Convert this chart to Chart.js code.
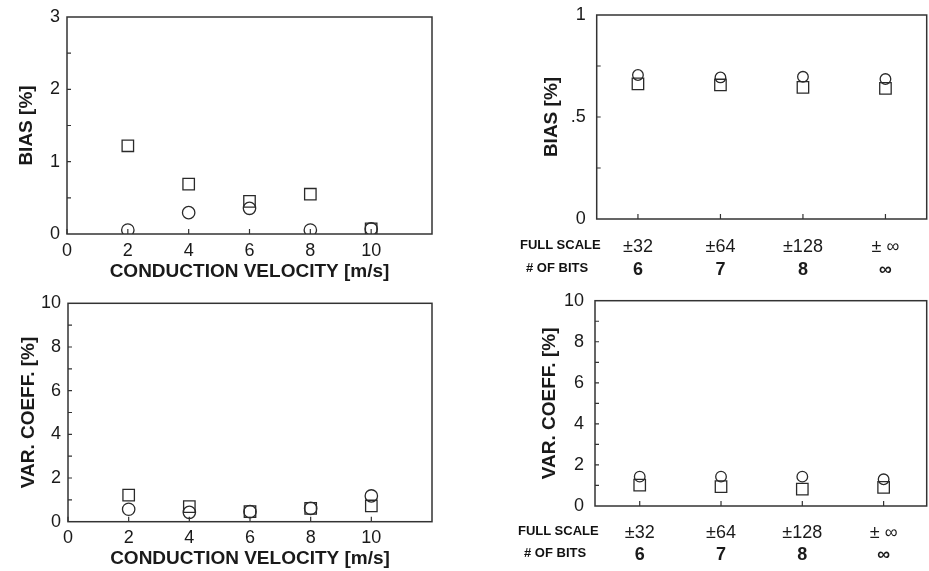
<!DOCTYPE html>
<html>
<head>
<meta charset="utf-8">
<script src="https://cdn.jsdelivr.net/npm/chart.js@4"></script>
<style>
  body { margin: 0; background: #fff; overflow: hidden; }
  canvas { position: absolute; }
  .rowlabel { position: absolute; font: bold 13px 'Liberation Sans', Arial, sans-serif; line-height: 16px; color: #111; white-space: nowrap; }
</style>
</head>
<body>
<canvas id="biasVelocity" width="450" height="285" style="left:0;top:0"></canvas>
<canvas id="biasQuant" width="469" height="285" style="left:460px;top:0"></canvas>
<canvas id="varVelocity" width="450" height="286" style="left:0;top:285px"></canvas>
<canvas id="varQuant" width="469" height="286" style="left:460px;top:285px"></canvas>

<div class="rowlabel" style="left:520px;top:237px">FULL SCALE</div>
<div class="rowlabel" style="left:526px;top:260px"># OF BITS</div>
<div class="rowlabel" style="left:518px;top:523px">FULL SCALE</div>
<div class="rowlabel" style="left:524px;top:545px"># OF BITS</div>

<script>
// conduction velocity panels (left)
const velocities = [2, 4, 6, 8, 10];
const velocityTicks = [0, 2, 4, 6, 8, 10];
const biasVelSquares = [1.22, 0.69, 0.45, 0.55, 0.07];
const biasVelCircles = [0.055, 0.295, 0.355, 0.055, 0.07];
const varVelSquares = [1.22, 0.69, 0.46, 0.61, 0.72];
const varVelCircles = [0.57, 0.43, 0.46, 0.61, 1.18];

// quantization panels (right)
const quantPositions = [1, 2, 3, 4];
const fullScaleLabels = ['±32', '±64', '±128', '± ∞'];
const bitLabels = ['6', '7', '8', '∞'];
const biasQuantSquares = [0.662, 0.657, 0.645, 0.64];
const biasQuantCircles = [0.706, 0.694, 0.697, 0.686];
const varQuantSquares = [1.02, 0.94, 0.82, 0.91];
const varQuantCircles = [1.43, 1.43, 1.43, 1.30];

const FONT = "'Liberation Sans', Arial, sans-serif";
const INK = '#1a1a1a';

// box around the plot plus small inward tick marks
const frameAndTicks = {
    id: 'frameAndTicks',
    afterDatasetsDraw(chart) {
        const { ctx, chartArea: a, scales } = chart;
        ctx.save();
        ctx.strokeStyle = '#333';
        ctx.lineWidth = 1.5;
        ctx.strokeRect(a.left, a.top, a.right - a.left, a.bottom - a.top);
        ctx.lineWidth = 1.2;
        ctx.beginPath();
        scales.x.ticks.forEach(t => {
            const px = scales.x.getPixelForValue(t.value);
            ctx.moveTo(px, a.bottom);
            ctx.lineTo(px, a.bottom - 5);
        });
        const ys = scales.y;
        const step = ys.options.ticks.stepSize / 2;
        for (let v = ys.min + step; v < ys.max - 1e-9; v += step) {
            const py = ys.getPixelForValue(v);
            ctx.moveTo(a.left, py);
            ctx.lineTo(a.left + 4, py);
        }
        ctx.stroke();
        ctx.restore();
    }
};

// fixed axis size, and no extra room asked for overhanging labels
function fixSize(prop, size) {
    return s => {
        s[prop] = size;
        s.paddingTop = 0;
        s.paddingBottom = 0;
        s.paddingLeft = 0;
        s.paddingRight = 0;
    };
}

function markers(xs, squares, circles, circleRadius) {
    return [
        {
            label: 'squares',
            data: xs.map((x, i) => ({ x: x, y: squares[i] })),
            pointStyle: 'rect',
            pointRadius: 8.1,
            borderColor: '#2a2a2a',
            backgroundColor: 'rgba(0,0,0,0)',
            borderWidth: 1.3,
            showLine: false
        },
        {
            label: 'circles',
            data: xs.map((x, i) => ({ x: x, y: circles[i] })),
            pointStyle: 'circle',
            pointRadius: circleRadius,
            borderColor: '#2a2a2a',
            backgroundColor: 'rgba(0,0,0,0)',
            borderWidth: 1.3,
            showLine: false
        }
    ];
}

function yAxis(opts) {
    return {
        type: 'linear',
        min: 0,
        max: opts.max,
        afterFit: fixSize('width', opts.width),
        grid: { display: false, drawTicks: false },
        border: { display: false },
        ticks: {
            stepSize: opts.step,
            padding: opts.tickPad,
            color: INK,
            font: { family: FONT, size: 18 },
            callback: v => String(v).replace(/^0\./, '.')
        },
        title: {
            display: true,
            text: opts.title,
            color: INK,
            font: { family: FONT, size: 19, weight: 'bold' },
            padding: { top: opts.titlePad, bottom: 0 }
        }
    };
}

function baseOptions(padTop, padRight, scales) {
    return {
        responsive: false,
        animation: false,
        layout: { autoPadding: false, padding: { top: padTop, right: padRight, left: 0, bottom: 0 } },
        plugins: { legend: { display: false }, tooltip: { enabled: false } },
        scales: scales
    };
}

function velocityChart(id, squares, circles, title, layout) {
    new Chart(document.getElementById(id), {
        type: 'scatter',
        data: { datasets: markers(velocities, squares, circles, 6.2) },
        options: baseOptions(layout.padTop, 18, {
            x: {
                type: 'linear',
                min: 0,
                max: 12,
                afterBuildTicks: s => { s.ticks = velocityTicks.map(v => ({ value: v })); },
                afterFit: fixSize('height', layout.xHeight),
                grid: { display: false, drawTicks: false },
                border: { display: false },
                ticks: { padding: 6, autoSkip: false, maxRotation: 0, color: INK, font: { family: FONT, size: 18 } },
                title: {
                    display: true,
                    text: 'CONDUCTION VELOCITY [m/s]',
                    color: INK,
                    font: { family: FONT, size: 19, weight: 'bold' },
                    padding: { top: 0, bottom: layout.titlePadX }
                }
            },
            y: yAxis({ max: layout.yMax, step: layout.yStep, width: layout.yWidth, tickPad: 7, title: title, titlePad: layout.titlePadY })
        }),
        plugins: [frameAndTicks]
    });
}

function quantChart(id, squares, circles, title, layout) {
    const pick = labels => v => labels[quantPositions.indexOf(v)];
    new Chart(document.getElementById(id), {
        type: 'scatter',
        data: { datasets: markers(quantPositions, squares, circles, 5.3) },
        options: baseOptions(layout.padTop, 2.3, {
            x: {
                type: 'linear',
                position: 'bottom',
                weight: 0,
                min: layout.xMin,
                max: layout.xMax,
                afterBuildTicks: s => { s.ticks = quantPositions.map(v => ({ value: v })); },
                afterFit: fixSize('height', layout.row1Height),
                grid: { display: false, drawTicks: false },
                border: { display: false },
                ticks: { padding: layout.row1Pad, autoSkip: false, maxRotation: 0, color: INK, font: { family: FONT, size: 18 }, callback: pick(fullScaleLabels) }
            },
            bits: {
                type: 'linear',
                position: 'bottom',
                weight: 1,
                min: layout.xMin,
                max: layout.xMax,
                afterBuildTicks: s => { s.ticks = quantPositions.map(v => ({ value: v })); },
                afterFit: fixSize('height', layout.row2Height),
                grid: { display: false, drawTicks: false },
                border: { display: false },
                ticks: { padding: layout.row2Pad, autoSkip: false, maxRotation: 0, color: INK, font: { family: FONT, size: 18, weight: 'bold' }, callback: pick(bitLabels) }
            },
            y: yAxis({ max: layout.yMax, step: layout.yStep, width: layout.yWidth, tickPad: 11, title: title, titlePad: layout.titlePadY })
        }),
        plugins: [frameAndTicks]
    });
}

velocityChart('biasVelocity', biasVelSquares, biasVelCircles, 'BIAS [%]',
    { padTop: 17, xHeight: 51, yWidth: 67, yMax: 3, yStep: 1, titlePadX: 2, titlePadY: 15.3 });
velocityChart('varVelocity', varVelSquares, varVelCircles, 'VAR. COEFF. [%]',
    { padTop: 18.3, xHeight: 49.3, yWidth: 68, yMax: 10, yStep: 2, titlePadX: 0.5, titlePadY: 16.9 });
quantChart('biasQuant', biasQuantSquares, biasQuantCircles, 'BIAS [%]',
    { padTop: 15, yWidth: 136.7, yMax: 1, yStep: 0.5, titlePadY: 80.3, xMin: 0.5, xMax: 4.5,
      row1Height: 36, row1Pad: 17, row2Height: 30, row2Pad: 4 });
quantChart('varQuant', varQuantSquares, varQuantCircles, 'VAR. COEFF. [%]',
    { padTop: 15.7, yWidth: 135, yMax: 10, yStep: 2, titlePadY: 78.6, xMin: 0.45, xMax: 4.53,
      row1Height: 35, row1Pad: 16.7, row2Height: 30, row2Pad: 3.3 });
</script>
</body>
</html>
